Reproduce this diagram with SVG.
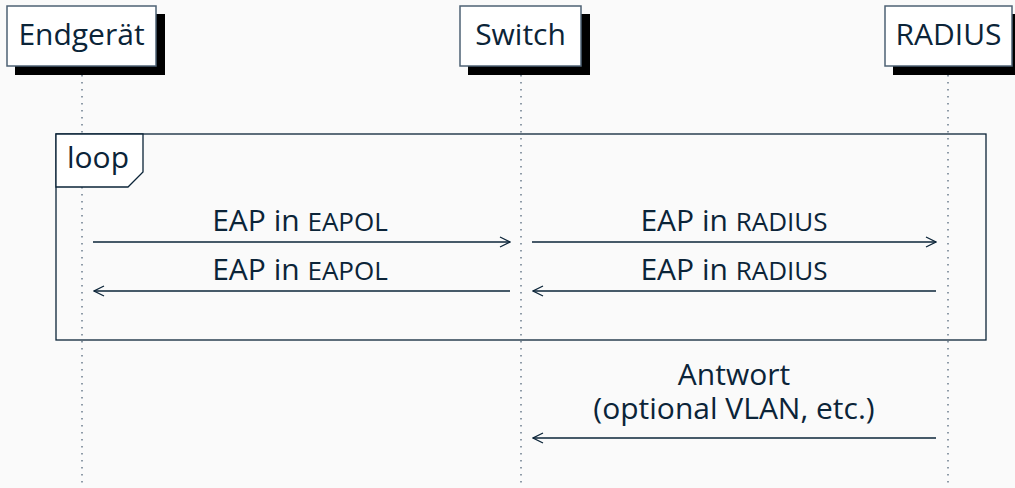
<svg xmlns="http://www.w3.org/2000/svg" width="1015" height="488" viewBox="0 0 1015 488">
<defs>
<style>
.bg{fill:#fafafa}
.shadow{fill:#000}
.box{fill:#fff;stroke:#4e6274;stroke-width:1.5}
.life{stroke:#6b7c8c;stroke-width:1.5;stroke-dasharray:1.5 5.5;fill:none}
.t{font-family:"Open Sans","Noto Sans",sans-serif;fill:#0b2438;font-size:30px}
.sm{font-size:26px}
.msg{stroke:#0b2438;stroke-width:1.3;fill:none}
.frame{fill:none;stroke:#0b2438;stroke-width:1.3}
</style>
<marker id="ah" viewBox="0 0 12 12" refX="11" refY="6" markerWidth="12" markerHeight="12" markerUnits="userSpaceOnUse" orient="auto">
<path d="M1,1 L11,6 L1,11" fill="none" stroke="#0b2438" stroke-width="1.3"/>
</marker>
</defs>
<rect class="bg" x="0" y="0" width="1015" height="488"/>
<g id="lifelines">
<line class="life" x1="82" y1="75" x2="82" y2="488"/>
<line class="life" x1="521" y1="75" x2="521" y2="488"/>
<line class="life" x1="948" y1="75" x2="948" y2="488"/>
</g>
<g id="endgeraet">
<rect class="shadow" x="15" y="14" width="150" height="61"/>
<rect class="box" x="7" y="6" width="149" height="60"/>
<text class="t" x="81.5" y="45" text-anchor="middle">Endgerät</text>
</g>
<g id="switch">
<rect class="shadow" x="468" y="14" width="122" height="61"/>
<rect class="box" x="460" y="6" width="121" height="60"/>
<text class="t" x="520.5" y="45" text-anchor="middle">Switch</text>
</g>
<g id="radius">
<rect class="shadow" x="893" y="14" width="130" height="61"/>
<rect class="box" x="885" y="6" width="127" height="60"/>
<text class="t" x="948.5" y="45" text-anchor="middle">RADIUS</text>
</g>
<g id="loop">
<rect class="frame" x="56" y="134" width="930" height="206" fill="none"/>
<path d="M56,134 L143,134 L143,172 L128,187 L56,187 Z" fill="#fff" stroke="#0b2438" stroke-width="1.3"/>
<text class="t" x="67" y="168">loop</text>
</g>
<g id="connectors">
<line class="msg" x1="93" y1="242" x2="510" y2="242" marker-end="url(#ah)"/>
<line class="msg" x1="510" y1="291" x2="94" y2="291" marker-end="url(#ah)"/>
<line class="msg" x1="532" y1="242" x2="936" y2="242" marker-end="url(#ah)"/>
<line class="msg" x1="936" y1="291" x2="533" y2="291" marker-end="url(#ah)"/>
<line class="msg" x1="936" y1="438" x2="533" y2="438" marker-end="url(#ah)"/>
</g>
<g id="labels">
<text class="t" x="300" y="231" text-anchor="middle">EAP in <tspan class="sm">EAPOL</tspan></text>
<text class="t" x="300" y="280" text-anchor="middle">EAP in <tspan class="sm">EAPOL</tspan></text>
<text class="t" x="734" y="231" text-anchor="middle">EAP in <tspan class="sm">RADIUS</tspan></text>
<text class="t" x="734" y="280" text-anchor="middle">EAP in <tspan class="sm">RADIUS</tspan></text>
<text class="t" x="734" y="385" text-anchor="middle">Antwort</text>
<text class="t" x="734" y="419" text-anchor="middle">(optional VLAN, etc.)</text>
</g>
</svg>
